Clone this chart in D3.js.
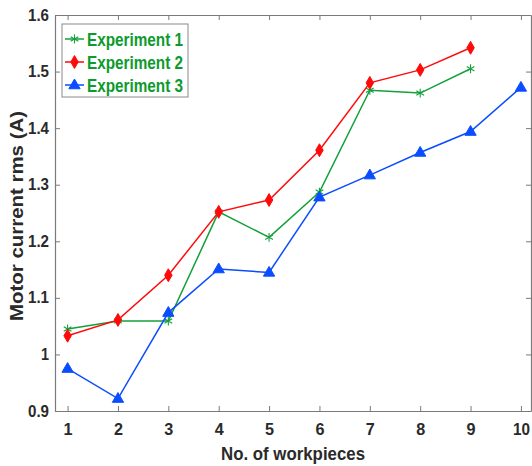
<!DOCTYPE html>
<html>
<head>
<meta charset="utf-8">
<script src="https://cdn.jsdelivr.net/npm/d3@7"></script>
<style>
  body { margin: 0; background: #fff; }
  svg { display: block; font-family: "Liberation Sans", Arial, sans-serif; }
</style>
</head>
<body>
<svg width="532" height="466"></svg>
<script>
const width = 532;
const height = 466;
const margin = { top: 15, right: 1, bottom: 55, left: 55 };

const workpieces = [1, 2, 3, 4, 5, 6, 7, 8, 9, 10];
const exp1 = [1.045, 1.059, 1.059, 1.252, 1.207, 1.287, 1.467, 1.462, 1.505];
const exp2 = [1.033, 1.061, 1.140, 1.252, 1.273, 1.361, 1.480, 1.503, 1.542];
const exp3 = [0.975, 0.922, 1.074, 1.151, 1.145, 1.278, 1.317, 1.357, 1.394, 1.472];
const yTicks = [0.9, 1, 1.1, 1.2, 1.3, 1.4, 1.5, 1.6];

const series = [
  { name: "Experiment 1", values: exp1, color: "#13a03a", marker: "star" },
  { name: "Experiment 2", values: exp2, color: "#ff0a0a", marker: "diamond" },
  { name: "Experiment 3", values: exp3, color: "#0a4cff", marker: "triangle" }
];

const svg = d3.select("svg");

const xScale = d3.scaleLinear()
  .domain([0.75, 10.2])
  .range([margin.left, width - margin.right]);

const yScale = d3.scaleLinear()
  .domain([0.9, 1.6])
  .range([height - margin.bottom, margin.top]);

const axisColor = "#7a7a7a";
const textColor = "#2a2a2a";

// box axes, ticks pointing in
const bottomAxis = svg.append("g")
  .attr("transform", `translate(0, ${height - margin.bottom})`)
  .call(d3.axisBottom(xScale).tickValues(workpieces).tickSizeInner(-5).tickSizeOuter(0).tickPadding(13).tickFormat(d3.format("d")));

const topAxis = svg.append("g")
  .attr("transform", `translate(0, ${margin.top})`)
  .call(d3.axisTop(xScale).tickValues(workpieces).tickSizeInner(-5).tickSizeOuter(0).tickFormat(""));

const leftAxis = svg.append("g")
  .attr("transform", `translate(${margin.left}, 0)`)
  .call(d3.axisLeft(yScale).tickValues(yTicks).tickSizeInner(-5).tickSizeOuter(0).tickPadding(6)
    .tickFormat(d => d === 1 ? "1" : d3.format(".1f")(d)));

const rightAxis = svg.append("g")
  .attr("transform", `translate(${width - margin.right}, 0)`)
  .call(d3.axisRight(yScale).tickValues(yTicks).tickSizeInner(-5).tickSizeOuter(0).tickFormat(""));

[bottomAxis, topAxis, leftAxis, rightAxis].forEach(g => {
  g.select(".domain").attr("stroke", axisColor).attr("stroke-width", 1.2);
  g.selectAll(".tick line").attr("stroke", axisColor);
  g.selectAll(".tick text")
    .attr("fill", textColor)
    .style("font-size", "16px")
    .style("font-weight", "bold");
});
bottomAxis.selectAll(".tick text")
  .attr("textLength", d => d === 10 ? 17 : 9)
  .attr("lengthAdjust", "spacingAndGlyphs");
leftAxis.selectAll(".tick text")
  .attr("textLength", d => d === 1 ? 8 : 21)
  .attr("lengthAdjust", "spacingAndGlyphs");

// axis titles
svg.append("text")
  .attr("x", 293)
  .attr("y", 460)
  .attr("text-anchor", "middle")
  .attr("fill", textColor)
  .attr("textLength", 144)
  .attr("lengthAdjust", "spacingAndGlyphs")
  .style("font-size", "18px")
  .style("font-weight", "bold")
  .text("No. of workpieces");

svg.append("text")
  .attr("transform", "rotate(-90)")
  .attr("x", -216)
  .attr("y", 23)
  .attr("text-anchor", "middle")
  .attr("fill", textColor)
  .attr("textLength", 210)
  .attr("lengthAdjust", "spacingAndGlyphs")
  .style("font-size", "18px")
  .style("font-weight", "bold")
  .text("Motor current rms (A)");

// markers
function drawMarker(g, kind, color) {
  if (kind === "star") {
    g.append("path")
      .attr("d", d3.symbol(d3.symbolAsterisk, 55)())
      .attr("fill", "none")
      .attr("stroke", color)
      .attr("stroke-width", 1.1);
  } else if (kind === "diamond") {
    g.append("path")
      .attr("d", d3.symbol(d3.symbolDiamond, 48)())
      .attr("fill", color)
      .attr("stroke", color);
  } else {
    g.append("path")
      .attr("d", d3.symbol(d3.symbolTriangle, 55)())
      .attr("transform", "translate(0,0.5)")
      .attr("fill", color)
      .attr("stroke", color);
  }
}

const line = d3.line()
  .x((d, i) => xScale(workpieces[i]))
  .y(d => yScale(d));

series.forEach(s => {
  svg.append("path")
    .datum(s.values)
    .attr("fill", "none")
    .attr("stroke", s.color)
    .attr("stroke-width", 1.5)
    .attr("d", line);

  svg.append("g").selectAll("g")
    .data(s.values)
    .join("g")
      .attr("transform", (d, i) => `translate(${xScale(workpieces[i])}, ${yScale(d)})`)
      .each(function() { drawMarker(d3.select(this), s.marker, s.color); });
});

// legend
const legend = svg.append("g").attr("transform", "translate(62, 24)");
legend.append("rect")
  .attr("width", 126)
  .attr("height", 73)
  .attr("fill", "#fff")
  .attr("stroke", "#8a8a8a");

series.forEach((s, i) => {
  const row = legend.append("g").attr("transform", `translate(0, ${15 + i * 23})`);
  row.append("line")
    .attr("x1", 3).attr("x2", 22)
    .attr("stroke", s.color)
    .attr("stroke-width", 1.5);
  drawMarker(row.append("g").attr("transform", "translate(12.5, 0)"), s.marker, s.color);
  row.append("text")
    .attr("x", 25)
    .attr("y", 6.5)
    .attr("fill", "#0d9a2e")
    .attr("textLength", 96)
    .attr("lengthAdjust", "spacingAndGlyphs")
    .style("font-size", "18.5px")
    .style("font-weight", "bold")
    .text(s.name);
});
</script>
</body>
</html>
